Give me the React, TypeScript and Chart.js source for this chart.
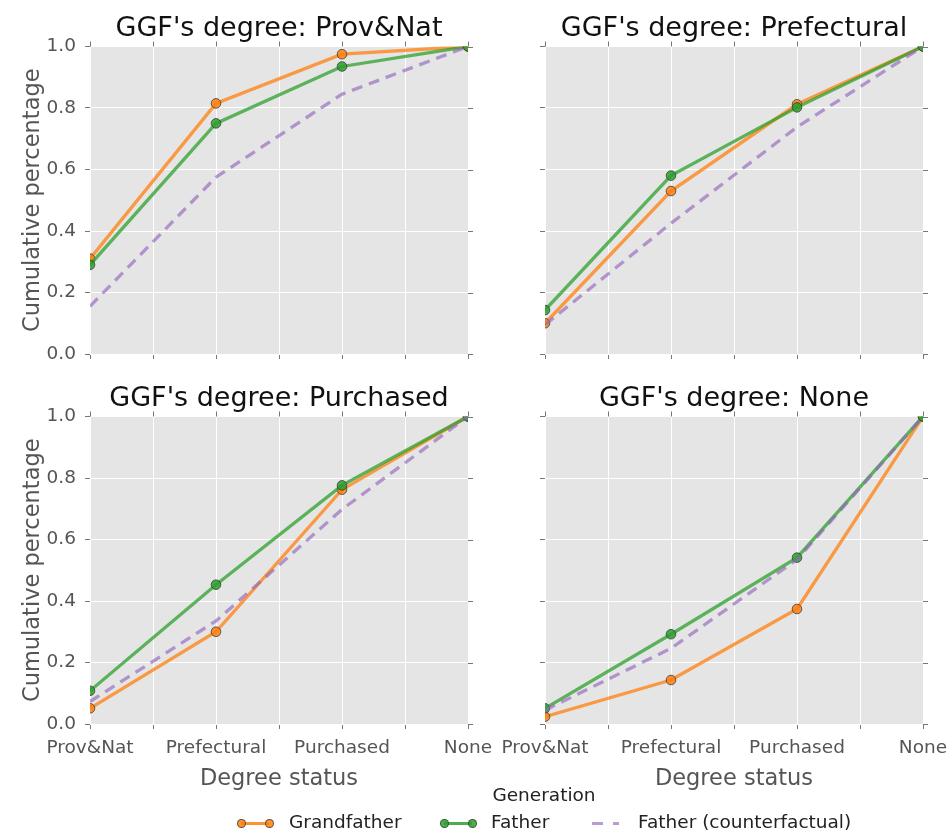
import React, { useEffect, useRef } from "react";
import { Chart, registerables } from "chart.js";

Chart.register(...registerables);

// ---------- data ----------
const categories = ["Prov&Nat", "Prefectural", "Purchased", "None"];
const panelTitles = [
  "GGF's degree: Prov&Nat",
  "GGF's degree: Prefectural",
  "GGF's degree: Purchased",
  "GGF's degree: None",
];
const seriesNames = ["Grandfather", "Father", "Father (counterfactual)"];
const legendTitle = "Generation";
const yAxisTitle = "Cumulative percentage";
const xAxisTitle = "Degree status";

const grandfatherProvNat = [0.31, 0.815, 0.975, 1.0];
const fatherProvNat = [0.29, 0.75, 0.935, 1.0];
const counterProvNat = [0.155, 0.575, 0.845, 1.0];

const grandfatherPrefectural = [0.1, 0.53, 0.812, 1.0];
const fatherPrefectural = [0.143, 0.58, 0.802, 1.0];
const counterPrefectural = [0.095, 0.425, 0.738, 1.0];

const grandfatherPurchased = [0.051, 0.3, 0.762, 1.0];
const fatherPurchased = [0.108, 0.453, 0.776, 1.0];
const counterPurchased = [0.073, 0.335, 0.698, 1.0];

const grandfatherNone = [0.024, 0.143, 0.374, 1.0];
const fatherNone = [0.051, 0.292, 0.541, 1.0];
const counterNone = [0.045, 0.246, 0.535, 1.0];

// ---------- styles ----------
const FONT = '"DejaVu Sans", sans-serif';
const ORANGE_LINE = "rgba(255,127,14,0.75)";
const ORANGE_PT = "rgba(255,127,14,0.85)";
const GREEN_LINE = "rgba(44,160,44,0.75)";
const GREEN_PT = "rgba(44,160,44,0.85)";
const PURPLE_LINE = "rgba(148,103,189,0.65)";
const TICK_COLOR = "#555555";
const TICK_MARK = "#777777";
const TICK_FONT = 18.5;
const AXIS_TITLE_FONT = 22.5;
const PANEL_TITLE_FONT = 27;
const LEGEND_FONT = 18.5;

type Panel = {
  title: string;
  g: number[];
  f: number[];
  c: number[];
  left: number;
  right: number;
  top: number;
  bottom: number;
  showY: boolean;
  showX: boolean;
};

const PW = 950;
const PH = 833;

const panels: Panel[] = [
  { title: panelTitles[0], g: grandfatherProvNat, f: fatherProvNat, c: counterProvNat, left: 90, right: 468, top: 46.5, bottom: 354, showY: true, showX: false },
  { title: panelTitles[1], g: grandfatherPrefectural, f: fatherPrefectural, c: counterPrefectural, left: 545, right: 923, top: 46.5, bottom: 354, showY: false, showX: false },
  { title: panelTitles[2], g: grandfatherPurchased, f: fatherPurchased, c: counterPurchased, left: 90, right: 468, top: 416.5, bottom: 724, showY: true, showX: true },
  { title: panelTitles[3], g: grandfatherNone, f: fatherNone, c: counterNone, left: 545, right: 923, top: 416.5, bottom: 724, showY: false, showX: true },
];

const toPts = (arr: number[]) => arr.map((v, i) => ({ x: i, y: v }));

const decorPlugin = {
  id: "decor",
  beforeDraw(chart: any) {
    const { ctx, chartArea: a } = chart;
    ctx.save();
    ctx.fillStyle = "#E5E5E5";
    ctx.fillRect(a.left, a.top, a.right - a.left, a.bottom - a.top);
    ctx.restore();
  },
  afterDraw(chart: any, _args: any, opts: any) {
    const { ctx, chartArea: a } = chart;
    const xs = chart.scales.x;
    const ys = chart.scales.y;
    ctx.save();
    ctx.strokeStyle = TICK_MARK;
    ctx.lineWidth = 1;
    ctx.beginPath();
    xs.ticks.forEach((t: any) => {
      const px = Math.round(xs.getPixelForValue(t.value)) + 0.5;
      ctx.moveTo(px, a.top);
      ctx.lineTo(px, a.top - 5);
    });
    ys.ticks.forEach((t: any) => {
      const py = Math.round(ys.getPixelForValue(t.value)) + 0.5;
      ctx.moveTo(a.right, py);
      ctx.lineTo(a.right + 5, py);
    });
    ctx.stroke();
    ctx.fillStyle = "#111111";
    ctx.font = `${PANEL_TITLE_FONT}px ${FONT}`;
    ctx.textAlign = "center";
    ctx.textBaseline = "alphabetic";
    ctx.fillText(opts.title, (a.left + a.right) / 2, a.top - 10.5);
    ctx.restore();
  },
};

function PanelChart({ p }: { p: Panel }) {
  const ref = useRef<HTMLCanvasElement | null>(null);
  useEffect(() => {
    if (!ref.current) return;
    const yW = p.showY ? 74.5 : 10;
    const xH = p.showX ? 73 : 10;
    const chart = new Chart(ref.current, {
      type: "line",
      data: {
        datasets: [
          {
            label: seriesNames[0],
            data: toPts(p.g),
            borderColor: ORANGE_LINE,
            backgroundColor: ORANGE_PT,
            pointBackgroundColor: ORANGE_PT,
            pointBorderColor: "rgba(60,60,60,0.8)",
            pointBorderWidth: 1,
            pointRadius: 4.8,
            borderWidth: 3.3,
            order: 3,
          },
          {
            label: seriesNames[1],
            data: toPts(p.f),
            borderColor: GREEN_LINE,
            backgroundColor: GREEN_PT,
            pointBackgroundColor: GREEN_PT,
            pointBorderColor: "rgba(60,60,60,0.8)",
            pointBorderWidth: 1,
            pointRadius: 4.8,
            borderWidth: 3.3,
            order: 2,
          },
          {
            label: seriesNames[2],
            data: toPts(p.c),
            borderColor: PURPLE_LINE,
            borderDash: [11, 7],
            pointRadius: 0,
            borderWidth: 3.3,
            order: 1,
          },
        ],
      },
      options: {
        responsive: false,
        animation: false,
        events: [],
        layout: {
          padding: {
            left: p.left - yW,
            right: PW - p.right,
            top: p.top,
            bottom: PH - p.bottom - xH,
          },
        },
        plugins: {
          legend: { display: false },
          tooltip: { enabled: false },
          title: { display: false },
          decor: { title: p.title },
        } as any,
        scales: {
          x: {
            type: "linear",
            min: 0,
            max: 3,
            border: { display: false },
            grid: { color: "#FFFFFF", lineWidth: 1, tickLength: 5, tickColor: TICK_MARK, drawTicks: true },
            ticks: {
              stepSize: 0.5,
              autoSkip: false,
              maxRotation: 0,
              minRotation: 0,
              padding: 8,
              color: TICK_COLOR,
              font: { family: FONT, size: TICK_FONT },
              callback: (v: any) => {
                if (!p.showX) return "";
                const n = Number(v);
                return Number.isInteger(n) ? categories[n] : "";
              },
            },
            title: {
              display: p.showX,
              text: xAxisTitle,
              color: TICK_COLOR,
              font: { family: FONT, size: AXIS_TITLE_FONT },
              padding: { top: 4, bottom: 4 },
            },
            afterFit: (s: any) => {
              s.height = xH;
              s.paddingLeft = 0;
              s.paddingRight = 0;
              s.paddingTop = 0;
              s.paddingBottom = 0;
            },
          },
          y: {
            type: "linear",
            min: 0,
            max: 1,
            border: { display: false },
            grid: { color: "#FFFFFF", lineWidth: 1, tickLength: 5, tickColor: TICK_MARK, drawTicks: true },
            ticks: {
              stepSize: 0.2,
              padding: 9,
              color: TICK_COLOR,
              font: { family: FONT, size: TICK_FONT },
              callback: (v: any) => (p.showY ? Number(v).toFixed(1) : ""),
            },
            title: {
              display: p.showY,
              text: yAxisTitle,
              color: TICK_COLOR,
              font: { family: FONT, size: AXIS_TITLE_FONT },
              padding: { top: 4, bottom: 4 },
            },
            afterFit: (s: any) => {
              s.width = yW;
              s.paddingLeft = 0;
              s.paddingRight = 0;
              s.paddingTop = 0;
              s.paddingBottom = 0;
            },
          },
        },
      } as any,
      plugins: [decorPlugin as any],
    });
    return () => chart.destroy();
  }, [p]);
  return (
    <canvas
      ref={ref}
      width={PW}
      height={PH}
      style={{ position: "absolute", left: 0, top: 0, width: PW, height: PH }}
    />
  );
}

function LegendIcon({ x, color, dashed }: { x: number; color: string; dashed?: boolean }) {
  const cy = 823;
  if (dashed) {
    return (
      <>
        <div style={{ position: "absolute", left: x, top: cy - 1.5, width: 11, height: 3, background: PURPLE_LINE }} />
        <div style={{ position: "absolute", left: x + 21, top: cy - 1.5, width: 6, height: 3, background: PURPLE_LINE }} />
      </>
    );
  }
  const dot = (cx: number) => (
    <div
      style={{
        position: "absolute",
        left: cx - 4.5,
        top: cy - 4.5,
        width: 7,
        height: 7,
        borderRadius: "50%",
        background: color,
        border: "1px solid rgba(60,60,60,0.8)",
      }}
    />
  );
  return (
    <>
      <div style={{ position: "absolute", left: x, top: cy - 1.5, width: 28, height: 3, background: color }} />
      {dot(x)}
      {dot(x + 28)}
    </>
  );
}

export default function App() {
  useEffect(() => {
    document.body.style.margin = "0";
  }, []);
  const textStyle = (left: number): React.CSSProperties => ({
    position: "absolute",
    left,
    top: 822 - 11,
    fontFamily: FONT,
    fontSize: LEGEND_FONT,
    lineHeight: "22px",
    color: "#222222",
    whiteSpace: "nowrap",
  });
  return (
    <div style={{ position: "relative", width: PW, height: PH, background: "#FFFFFF", overflow: "hidden" }}>
      {panels.map((p, i) => (
        <PanelChart key={i} p={p} />
      ))}
      <div
        style={{
          position: "absolute",
          left: 444,
          width: 200,
          top: 784,
          textAlign: "center",
          fontFamily: FONT,
          fontSize: LEGEND_FONT,
          lineHeight: "22px",
          color: "#222222",
        }}
      >
        {legendTitle}
      </div>
      <LegendIcon x={241} color={ORANGE_PT} />
      <div style={textStyle(289)}>{seriesNames[0]}</div>
      <LegendIcon x={444} color={GREEN_PT} />
      <div style={textStyle(491)}>{seriesNames[1]}</div>
      <LegendIcon x={592} color={PURPLE_LINE} dashed />
      <div style={textStyle(638)}>{seriesNames[2]}</div>
    </div>
  );
}
